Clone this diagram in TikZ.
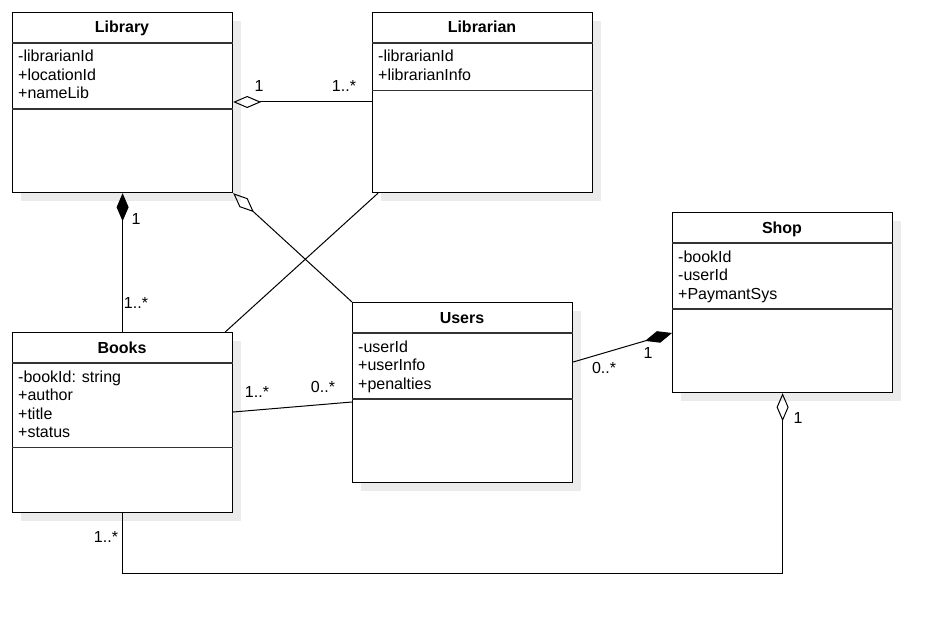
\documentclass[tikz,border=0pt]{standalone}
\usepackage{fontspec}
\setmainfont{Liberation Sans}
\usetikzlibrary{arrows.meta,calc,shadows}
\tikzset{
  aggd/.tip={Diamond[open,length=28pt,width=12pt]},
  compd/.tip={Diamond[length=28pt,width=12pt]}
}
\begin{document}
\begin{tikzpicture}[x=1pt,y=-1pt,
  every node/.style={font=\fontsize{16pt}{18.5pt}\selectfont},
  cls/.style={draw=black, line width=1.2pt, fill=white, minimum width=220pt,
    minimum height=180pt, anchor=north west, inner sep=0pt,
    general shadow={shadow xshift=8pt, shadow yshift=-8pt, fill=black!8}},
  ttl/.style={font=\fontsize{16pt}{18.5pt}\selectfont\bfseries, inner sep=0pt, anchor=base},
  attr/.style={inner sep=0pt, anchor=base west},
  sep/.style={line width=1.2pt, draw=black!80},
  conn/.style={line width=1pt, draw=black},
  lbl/.style={inner sep=0pt, anchor=center}
]
\useasboundingbox (0,0) rectangle (942,623);

% ---------- Library ----------
\node[cls] (lib) at (12,12) {};
\node[ttl] (libT) at (122,33) {Library};
\draw[sep] ($(lib.north west)+(0,31)$) -- ($(lib.north east)+(0,31)$);
\foreach \t [count=\i] in {-librarianId,+locationId,+nameLib}
  \node[attr] (libA\i) at (18,{62+18.5*(\i-1)}) {\t};
\draw[sep] ($(lib.north west)+(0,97)$) -- ($(lib.north east)+(0,97)$);

% ---------- Librarian ----------
\node[cls] (lbr) at (372,12) {};
\node[ttl] (lbrT) at (482,33) {Librarian};
\draw[sep] ($(lbr.north west)+(0,31)$) -- ($(lbr.north east)+(0,31)$);
\foreach \t [count=\i] in {-librarianId,+librarianInfo}
  \node[attr] (lbrA\i) at (378,{62+18.5*(\i-1)}) {\t};
\draw[sep] ($(lbr.north west)+(0,78.5)$) -- ($(lbr.north east)+(0,78.5)$);

% ---------- Shop ----------
\node[cls] (shop) at (672,212) {};
\node[ttl] (shopT) at (782,233) {Shop};
\draw[sep] ($(shop.north west)+(0,31)$) -- ($(shop.north east)+(0,31)$);
\foreach \t [count=\i] in {-bookId,-userId,+PaymantSys}
  \node[attr] (shopA\i) at (678,{262+18.5*(\i-1)}) {\t};
\draw[sep] ($(shop.north west)+(0,97)$) -- ($(shop.north east)+(0,97)$);

% ---------- Users ----------
\node[cls] (usr) at (352,302) {};
\node[ttl] (usrT) at (462,323) {Users};
\draw[sep] ($(usr.north west)+(0,31)$) -- ($(usr.north east)+(0,31)$);
\foreach \t [count=\i] in {-userId,+userInfo,+penalties}
  \node[attr] (usrA\i) at (358,{352+18.5*(\i-1)}) {\t};
\draw[sep] ($(usr.north west)+(0,97)$) -- ($(usr.north east)+(0,97)$);

% ---------- Books ----------
\node[cls] (bks) at (12,332) {};
\node[ttl] (bksT) at (122,353) {Books};
\draw[sep] ($(bks.north west)+(0,31)$) -- ($(bks.north east)+(0,31)$);
\foreach \t [count=\i] in {-bookId: string,+author,+title,+status}
  \node[attr] (bksA\i) at (18,{382+18.5*(\i-1)}) {\t};
\draw[sep] ($(bks.north west)+(0,115.5)$) -- ($(bks.north east)+(0,115.5)$);

% ---------- Connectors ----------
\draw[conn, aggd-] ($(lib.north east)+(0,90)$) -- ($(lbr.north west)+(0,90)$);
\draw[conn, compd-] (lib.south) -- (bks.north);
\draw[conn, aggd-] (lib.south east) -- (usr.north west);
\draw[conn] ($(lbr.south west)+(6,0)$) -- ($(bks.north east)+(-8,0)$);
\draw[conn] ($(bks.north east)+(0,80)$) -- ($(usr.north west)+(0,100)$);
\draw[conn, -compd] ($(usr.north east)+(0,60)$) -- ($(shop.north west)+(0,121)$);
\draw[conn, aggd-] (shop.south) -- ++(0,180) -| (bks.south);

% ---------- Multiplicities ----------
\node[lbl] (m1) at (259,86) {1};
\node[lbl] (m2) at (344,86) {1..*};
\node[lbl] (m3) at (136,219) {1};
\node[lbl] (m4) at (136,303) {1..*};
\node[lbl] (m5) at (257,392) {1..*};
\node[lbl] (m6) at (323,387) {0..*};
\node[lbl] (m7) at (604,368) {0..*};
\node[lbl] (m8) at (648,353) {1};
\node[lbl] (m9) at (798,418) {1};
\node[lbl] (m10) at (106,537) {1..*};
\end{tikzpicture}
\end{document}
